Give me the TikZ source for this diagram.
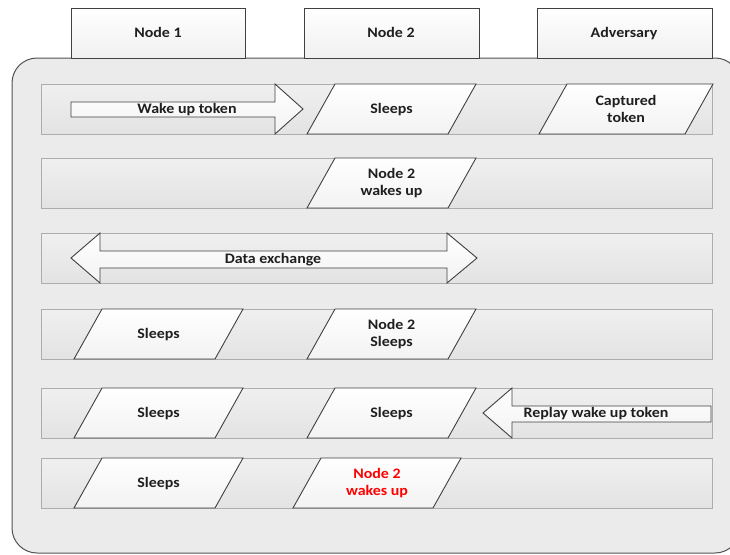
\documentclass[tikz,border=0pt]{standalone}
\usepackage{fontspec}
\setmainfont{Carlito}[FakeStretch=1.1]
\begin{document}
\begin{tikzpicture}[x=1pt,y=-1pt,
  txt/.style={font=\fontsize{14.5}{17}\selectfont\bfseries, align=center, inner sep=0pt, text=black!88},
  oneline/.style={text height=9.4pt, text depth=0pt},
  container/.style={draw=black!68, line width=1pt, fill=black!8, rounded corners=25pt},
  header/.style={draw=black!75, line width=0.9pt, top color=white, bottom color=black!6},
  lane/.style={draw=black!32, line width=0.9pt, top color=black!6, bottom color=black!11},
  parashape/.style={draw=black!75, line width=0.9pt, top color=white, bottom color=black!5},
  bigarrow/.style={draw=black!75, line width=0.9pt, top color=white, bottom color=black!5}]
\useasboundingbox (0,0) rectangle (730,554);
\clip (0,0) rectangle (730,554);
\newcommand\parabox[6]{%
  \draw[parashape] (#2,#3+50) -- (#2+28,#3) -- (#2+28+#4,#3) -- (#2+#4,#3+50) -- cycle;
  \node[txt,#6] (#1) at (#2+14+#4/2,#3+25) {#5};
}
% container
\draw[container] (12,58) rectangle (740,553);
% headers
\draw[header] (71,8) rectangle (245,58);
\node[txt,oneline] (h1) at (158,33) {Node 1};
\draw[header] (304,8) rectangle (479,58);
\node[txt,oneline] (h2) at (391,33) {Node 2};
\draw[header] (537,8) rectangle (712,58);
\node[txt,oneline] (h3) at (624,33) {Adversary};
% lanes
\foreach \y in {84,158,233,309,388,458}
  \draw[lane] (41,\y) rectangle (712,\y+50);
% row 1
\draw[bigarrow] (71,102) -- (275,102) -- (275,84) -- (303,109) -- (275,134) -- (275,117) -- (71,117) -- cycle;
\node[txt,oneline] (wake) at (187,109) {Wake up token};
\parabox{s1}{307}{84}{141}{Sleeps}{oneline}
\parabox{cap}{539}{84}{146}{Captured\\token}{}
% row 2
\parabox{w2}{307}{158}{141}{Node 2\\wakes up}{}
% row 3
\draw[bigarrow] (71,258) -- (100,233) -- (100,251) -- (447,251) -- (447,233) -- (477,258) -- (447,283) -- (447,268) -- (100,268) -- (100,283) -- cycle;
\node[txt,oneline] (data) at (273,259) {Data exchange};
% row 4
\parabox{s41}{74}{309}{141}{Sleeps}{oneline}
\parabox{s42}{307}{309}{141}{Node 2\\Sleeps}{}
% row 5
\parabox{s51}{74}{388}{141}{Sleeps}{oneline}
\parabox{s52}{307}{388}{141}{Sleeps}{oneline}
\draw[bigarrow] (483,413) -- (512,388) -- (512,406) -- (711,406) -- (711,422) -- (512,422) -- (512,438) -- cycle;
\node[txt,oneline] (replay) at (596,413) {Replay wake up token};
% row 6
\parabox{s61}{74}{458}{141}{Sleeps}{oneline}
\parabox{w6}{293}{458}{140}{Node 2\\wakes up}{text=red}
\end{tikzpicture}
\end{document}
